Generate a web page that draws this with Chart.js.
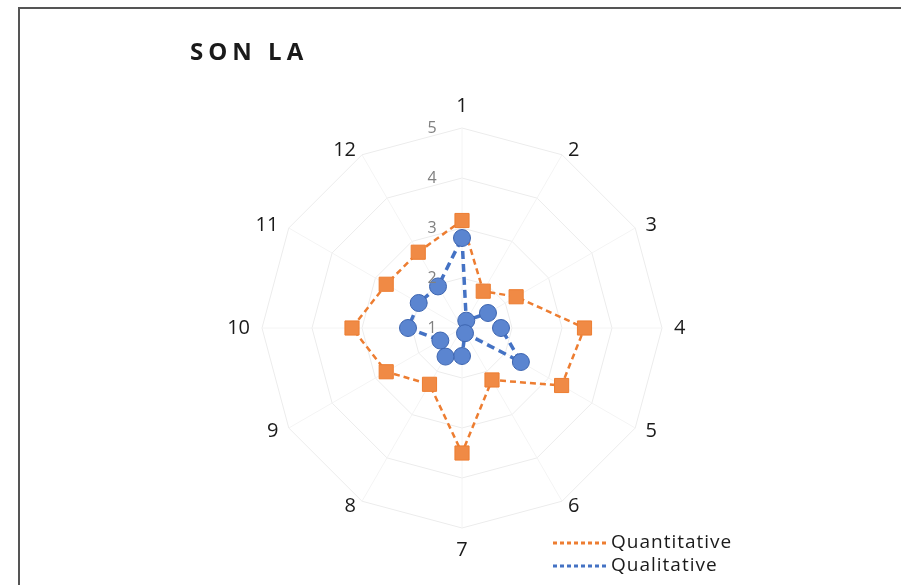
<!DOCTYPE html>
<html lang="en">
  <head>
    <meta charset="UTF-8" />
    <title>Son La</title>
    <script src="https://cdn.jsdelivr.net/npm/chart.js"></script>
    <style>
      html,
      body {
        margin: 0;
        padding: 0;
        background: #ffffff;
      }
      .frame {
        position: relative;
        width: 901px;
        height: 585px;
        overflow: hidden;
      }
      .frame::before {
        content: "";
        position: absolute;
        left: 18px;
        top: 7px;
        right: -5px;
        bottom: -5px;
        border-left: 2px solid #555555;
        border-top: 2px solid #555555;
      }
      .title {
        position: absolute;
        left: 190px;
        top: 34px;
        font-family: "Open Sans", sans-serif;
        font-weight: bold;
        font-size: 24px;
        letter-spacing: 5px;
        color: #1a1a1a;
      }
      canvas {
        position: absolute;
        left: 0;
        top: 0;
      }
    </style>
  </head>

  <body>
    <div class="frame">
      <canvas id="radar" width="901" height="585"></canvas>
      <div class="title">SON LA</div>
    </div>

    <script>
      // spokes 1..12, values
      const categories = ["1", "2", "3", "4", "5", "6", "7", "8", "9", "10", "11", "12"];
      const quantitative = [3.15, 1.85, 2.25, 3.45, 3.3, 2.2, 3.5, 2.3, 2.75, 3.2, 2.75, 2.75];
      const qualitative = [2.8, 1.17, 1.6, 1.78, 2.36, 1.12, 1.56, 1.66, 1.5, 2.08, 2.0, 1.96];
      const tickValues = [1, 2, 3, 4, 5];
      const seriesNames = ["Quantitative", "Qualitative"];

      const orange = "#ED7D31";
      const blue = "#4472C4";

      // labels drawn by hand so the circle keeps a fixed size
      const labelsPlugin = {
        id: "labels",
        afterDraw(chart) {
          const scale = chart.scales.r;
          const ctx = chart.ctx;
          const cx = scale.xCenter;
          const cy = scale.yCenter;
          ctx.save();

          ctx.font = "20px 'Open Sans', sans-serif";
          ctx.fillStyle = "#1a1a1a";
          ctx.textBaseline = "middle";
          categories.forEach((label, i) => {
            const p = scale.getPointPosition(i, scale.drawingArea + 12);
            const dx = p.x - cx;
            const dy = p.y - cy;
            if (Math.abs(dx) < 1) {
              // top and bottom spokes
              ctx.textAlign = "center";
              const q = scale.getPointPosition(i, scale.drawingArea + 22);
              ctx.fillText(label, q.x, q.y);
            } else {
              ctx.textAlign = dx > 0 ? "left" : "right";
              ctx.fillText(label, p.x, cy + dy * 0.97);
            }
          });

          ctx.font = "16px 'Open Sans', sans-serif";
          ctx.fillStyle = "#808080";
          ctx.textAlign = "center";
          tickValues.forEach((v) => {
            const d = scale.getDistanceFromCenterForValue(v);
            ctx.fillText(String(v), cx - 30, cy - d);
          });

          // legend, bottom right
          const colors = [orange, blue];
          ctx.font = "19px 'Open Sans', sans-serif";
          ctx.textAlign = "left";
          seriesNames.forEach((name, i) => {
            const y = 543 + i * 23;
            ctx.strokeStyle = colors[i];
            ctx.lineWidth = 3;
            ctx.setLineDash([4, 3]);
            ctx.beginPath();
            ctx.moveTo(553, y);
            ctx.lineTo(609, y);
            ctx.stroke();
            ctx.setLineDash([]);
            ctx.fillStyle = "#1a1a1a";
            ctx.letterSpacing = "1px";
            ctx.fillText(name, 611, y);
            ctx.letterSpacing = "0px";
          });

          ctx.restore();
        },
      };

      new Chart(document.getElementById("radar"), {
        type: "radar",
        data: {
          labels: categories,
          datasets: [
            {
              label: seriesNames[0],
              data: quantitative,
              borderColor: orange,
              borderWidth: 2.5,
              borderDash: [6, 4],
              fill: false,
              tension: 0,
              pointStyle: "rect",
              pointRadius: 10,
              pointBackgroundColor: "#F08A45",
              pointBorderColor: orange,
              pointBorderWidth: 1,
              order: 2,
            },
            {
              label: seriesNames[1],
              data: qualitative,
              borderColor: blue,
              borderWidth: 3.5,
              borderDash: [8, 5],
              fill: false,
              tension: 0,
              pointStyle: "circle",
              pointRadius: 8.5,
              pointBackgroundColor: "#5B85D0",
              pointBorderColor: "#3D65B0",
              pointBorderWidth: 1,
              order: 1,
            },
          ],
        },
        options: {
          responsive: false,
          animation: false,
          layout: {
            padding: { left: 262, right: 239, top: 128, bottom: 57 },
          },
          plugins: {
            legend: { display: false },
            tooltip: { enabled: false },
          },
          scales: {
            r: {
              min: 1,
              max: 5,
              ticks: { stepSize: 1, display: false },
              pointLabels: { display: false },
              grid: { color: "#ececec", lineWidth: 1 },
              angleLines: { color: "#f4f4f4", lineWidth: 1 },
            },
          },
        },
        plugins: [labelsPlugin],
      });
    </script>
  </body>
</html>
